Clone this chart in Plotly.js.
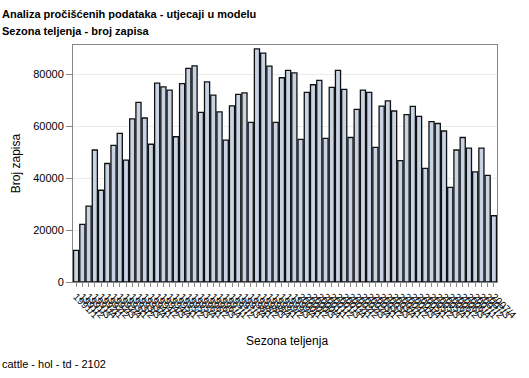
<!DOCTYPE html>
<html>
<head>
<meta charset="utf-8">
<script src="https://cdn.plot.ly/plotly-3.0.1.min.js"></script>
<style>
html,body{margin:0;padding:0;background:#fff;}
#chart{width:529px;height:378px;}
</style>
</head>
<body>
<div id="chart"></div>
<script>
// Seasons (year/quarter)
const years = [1991,1992,1993,1994,1995,1996,1997,1998,1999,2000,2001,2002,2003,2004,2005,2006,2007];
const quarters = [1,2,3,4];
const seasons = [];
years.forEach(y => quarters.forEach(q => seasons.push(y + '/' + q)));

// Number of records per season
const counts = [
  12200, 22200, 29200, 50800, 35300, 45600, 52600, 57200,
  46900, 62800, 69100, 63100, 53000, 76500, 75100, 73800,
  55900, 76300, 82200, 83200, 65300, 77000, 71900, 65500,
  54600, 67800, 72200, 72800, 61400, 89700, 88100, 83100,
  61400, 78600, 81400, 80500, 54900, 73000, 75900, 77600,
  55300, 74900, 81400, 74100, 55600, 66400, 73800, 73000,
  51800, 67700, 69700, 65800, 46700, 64400, 67600, 63700,
  43700, 61700, 61000, 58100, 36400, 50800, 55600, 51500,
  42400, 51500, 41000, 25500
];

const yTicks = [0, 20000, 40000, 60000, 80000];

const trace = {
  type: 'bar',
  x: seasons,
  y: counts,
  marker: {color: '#c8d4e4', line: {color: '#111111', width: 1.3}},
  hoverinfo: 'x+y'
};

const layout = {
  width: 529, height: 378,
  margin: {l: 73, r: 32, t: 45, b: 96},
  paper_bgcolor: '#ffffff',
  plot_bgcolor: '#ffffff',
  font: {family: 'Liberation Sans, Arial, sans-serif', size: 11, color: '#000'},
  bargap: 0.18,
  showlegend: false,
  xaxis: {
    type: 'category',
    tickmode: 'array',
    tickvals: seasons,
    ticktext: seasons,
    tickangle: 45,
    tickfont: {size: 10, color: '#000'},
    ticks: 'outside', ticklen: 4, tickcolor: '#888',
    showline: true, linecolor: '#888', linewidth: 1, mirror: true,
    showgrid: false,
    automargin: false
  },
  yaxis: {
    range: [0, 91200],
    tickvals: yTicks,
    ticktext: yTicks.map(String),
    tickfont: {size: 11, color: '#000'},
    ticks: 'outside', ticklen: 6, tickcolor: '#888',
    showline: true, linecolor: '#888', linewidth: 1, mirror: true,
    showgrid: true, gridcolor: '#ebebeb', gridwidth: 1,
    zeroline: false,
    title: {text: 'Broj zapisa', font: {size: 12, color: '#000'}, standoff: 10},
    automargin: false
  },
  annotations: [
    {text: '<b>Analiza pročišćenih podataka - utjecaji u modelu</b>', xref: 'paper', yref: 'paper',
     x: -73/424, y: 1 + (45-14)/237, xanchor: 'left', yanchor: 'middle', showarrow: false,
     font: {size: 11, color: '#000'}},
    {text: '<b>Sezona teljenja - broj zapisa</b>', xref: 'paper', yref: 'paper',
     x: -73/424, y: 1 + (45-31)/237, xanchor: 'left', yanchor: 'middle', showarrow: false,
     font: {size: 11, color: '#000'}},
    {text: 'Sezona teljenja', xref: 'paper', yref: 'paper',
     x: (287-73)/424, y: -(341-282)/237, xanchor: 'center', yanchor: 'middle', showarrow: false,
     font: {size: 12, color: '#000'}},
    {text: 'cattle - hol - td - 2102', xref: 'paper', yref: 'paper',
     x: -73/424, y: -(364-282)/237, xanchor: 'left', yanchor: 'middle', showarrow: false,
     font: {size: 11, color: '#000'}}
  ]
};

Plotly.newPlot('chart', [trace], layout, {displayModeBar: false, staticPlot: true});
</script>
</body>
</html>
